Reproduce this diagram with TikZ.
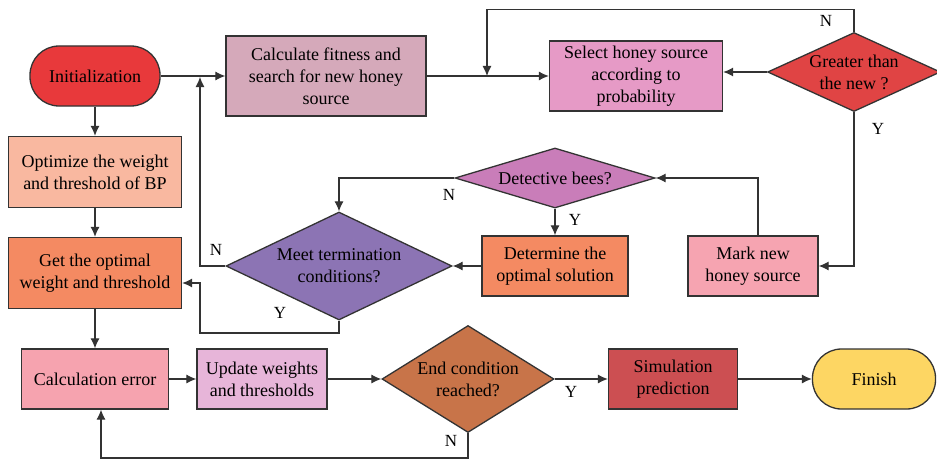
\documentclass[tikz,border=0pt]{standalone}
\usepackage{fontspec}
\setmainfont{Liberation Serif}
\usetikzlibrary{shapes.geometric,arrows.meta}
\definecolor{linec}{HTML}{333333}
\definecolor{initc}{HTML}{E8393B}
\definecolor{calcc}{HTML}{D5A9BA}
\definecolor{selc}{HTML}{E69AC6}
\definecolor{greatc}{HTML}{E04444}
\definecolor{optc}{HTML}{F9B8A0}
\definecolor{getc}{HTML}{F48A62}
\definecolor{detc}{HTML}{C97DB9}
\definecolor{meetc}{HTML}{8C74B4}
\definecolor{markc}{HTML}{F6A4B1}
\definecolor{errc}{HTML}{F6A3AF}
\definecolor{updc}{HTML}{E7B5D9}
\definecolor{endc}{HTML}{C87449}
\definecolor{simc}{HTML}{CC4F52}
\definecolor{finc}{HTML}{FDD663}
\tikzset{
  box/.style={draw=linec,line width=1.3pt,align=center,inner sep=2pt,
    font=\fontsize{18}{22}\selectfont},
  term/.style={rounded corners=29pt},
  cond/.style={diamond,inner sep=0pt},
  arr/.style={-{Latex[length=10pt,width=9pt]},draw=linec,line width=1.1pt},
  lbl/.style={font=\fontsize{17}{20}\selectfont,inner sep=0pt}
}
\begin{document}
\begin{tikzpicture}[x=1pt,y=-1pt]
      \useasboundingbox (0,0) rectangle (937,460);
      \begin{scope}[every node/.style={box}]
        \node[term,fill=initc,minimum width=130pt,minimum height=60pt] (init) at (95,76) {Initialization};
        \node[fill=calcc,minimum width=200pt,minimum height=80pt] (calc) at (326,76) {Calculate fitness and\\search for new honey\\source};
        \node[fill=selc,minimum width=173pt,minimum height=70pt] (sel) at (636,76) {Select honey source\\according to\\probability};
        \node[cond,shape aspect=2.4,fill=greatc,minimum width=170pt,minimum height=79pt] (great) at (854,72) {Greater than\\the new ?};
        \node[fill=optc,minimum width=173pt,minimum height=71pt] (opt) at (95,172) {Optimize the weight\\and threshold of BP};
        \node[fill=getc,minimum width=173pt,minimum height=71pt] (get) at (95,273) {Get the optimal\\weight and threshold};
        \node[cond,shape aspect=3.33,fill=detc,minimum width=200pt,minimum height=60pt] (det) at (555,178) {Detective bees?};
        \node[cond,shape aspect=2.1,fill=meetc,minimum width=226pt,minimum height=108pt] (meet) at (339,266) {Meet termination\\conditions?};
        \node[fill=getc,minimum width=146pt,minimum height=60pt] (detm) at (555,266) {Determine the\\optimal solution};
        \node[fill=markc,minimum width=130pt,minimum height=60pt] (mark) at (753,266) {Mark new\\honey source};
        \node[fill=errc,minimum width=147pt,minimum height=60pt] (err) at (95,379) {Calculation error};
        \node[fill=updc,minimum width=130pt,minimum height=60pt] (upd) at (262,379) {Update weights\\and thresholds};
        \node[cond,shape aspect=1.6,fill=endc,minimum width=172pt,minimum height=107pt] (endc) at (468,379) {End condition\\reached?};
        \node[fill=simc,minimum width=129pt,minimum height=60pt] (sim) at (673,379) {Simulation\\prediction};
        \node[term,fill=finc,minimum width=123pt,minimum height=60pt] (fin) at (874,379) {Finish};
      \end{scope}
      \coordinate (j1) at (200,77);
      \coordinate (j2) at (487,76);
      \coordinate (c1) at (200,333);
      \coordinate (c2) at (101,458);
      \begin{scope}[every edge/.style={arr}]
        \path (init) edge (calc);
        \path (calc) edge (sel);
        \path (great.west) edge (great.west -| sel.east);
        \path (init) edge (opt);
        \path (opt) edge (get);
        \path (get) edge (err);
        \path (err) edge (upd);
        \path (upd) edge (endc);
        \path (endc) edge (sim);
        \path (sim) edge (fin);
        \path (det) edge (detm);
        \path (detm) edge (meet);
      \end{scope}
      \draw[arr] (great.north) -- ++(0,-22) -| (j2);
      \draw[arr] (great.south) |- (mark.east);
      \draw[arr] ([xshift=5pt]mark.north) |- (det.east);
      \draw[arr] (det.west) -| (meet.north);
      \draw[arr] (meet.west) -| (j1);
      \draw[arr] (meet.south) |- (c1) |- ([yshift=-10pt]get.east);
      \draw[arr] (endc.south) |- (c2) -- ([xshift=6pt]err.south);
      \begin{scope}[every node/.style={lbl}]
        \node (n1) at (826,21) {N};
        \node (y1) at (878,129) {Y};
        \node (y2) at (575,220) {Y};
        \node (n2) at (449,195) {N};
        \node (n3) at (216,250) {N};
        \node (y3) at (280,313) {Y};
        \node (y4) at (571,392) {Y};
        \node (n4) at (451,441) {N};
      \end{scope}
    \end{tikzpicture}
\end{document}
